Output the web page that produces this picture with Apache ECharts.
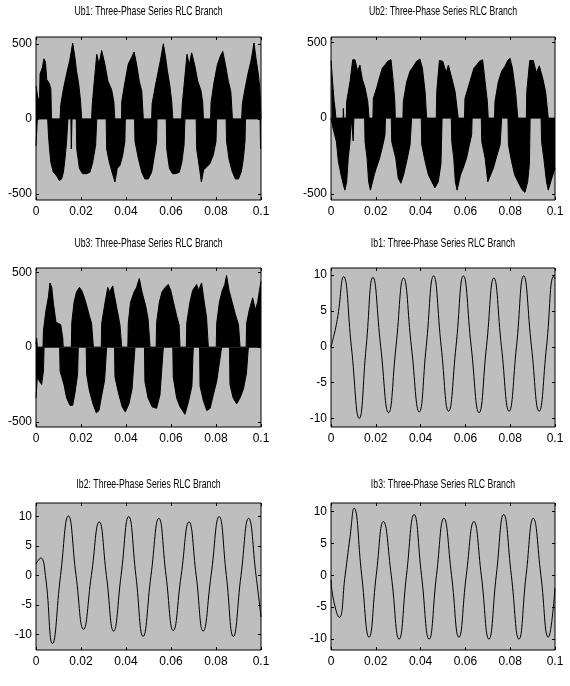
<!DOCTYPE html>
<html>
<head>
<meta charset="utf-8">
<script src="https://cdn.jsdelivr.net/npm/echarts@6/dist/echarts.min.js"></script>
<style>
  html, body { margin: 0; padding: 0; background: #fff; }
  #chart { width: 570px; height: 686px; }
</style>
</head>
<body>
<div id="chart"></div>
<script>
// tick labels
const X_TICKS = [0, 0.02, 0.04, 0.06, 0.08, 0.1];
const U_TICKS = [-500, 0, 500];
const I_TICKS = [-10, -5, 0, 5, 10];

// voltage envelopes [t, v] (positive and negative halves)
const ub1Pos = [[0,220],[0.0008,220],[0.001,120],[0.0016,150],[0.0018,300],[0.0028,340],[0.0035,400],[0.0042,380],[0.0048,260],[0.0058,240],[0.0066,200],[0.0069,0],
  [0.0107,0],[0.011,95],[0.0122,200],[0.0136,300],[0.015,390],[0.0163,505],[0.0173,410],[0.018,320],[0.019,230],[0.0198,120],[0.0203,0],
  [0.0247,0],[0.025,95],[0.0255,185],[0.027,430],[0.028,365],[0.0292,455],[0.0306,365],[0.032,250],[0.0336,195],[0.0346,115],[0.035,0],
  [0.038,0],[0.0381,115],[0.0396,250],[0.041,365],[0.0425,410],[0.0436,445],[0.0447,365],[0.0459,250],[0.047,185],[0.0477,0],
  [0.0514,0],[0.0516,100],[0.0528,200],[0.0541,300],[0.0553,390],[0.0566,500],[0.0576,410],[0.0584,320],[0.0594,230],[0.0603,120],[0.0608,0],
  [0.0647,0],[0.065,100],[0.0656,190],[0.0671,430],[0.0681,360],[0.0692,440],[0.0705,360],[0.0719,250],[0.0733,190],[0.0741,110],[0.0744,0],
  [0.0776,0],[0.0778,110],[0.0792,250],[0.0806,360],[0.082,420],[0.083,450],[0.0842,360],[0.0855,250],[0.0866,180],[0.0873,0],
  [0.0914,0],[0.0917,100],[0.0929,200],[0.0942,300],[0.0956,390],[0.0969,505],[0.0978,400],[0.0988,300],[0.0995,200],[0.1,0]];
const ub1Neg = [[0,-180],[0.0004,-180],[0.0006,0],
  [0.0052,0],[0.0055,-100],[0.006,-200],[0.0066,-290],[0.0077,-355],[0.0092,-380],[0.0104,-410],[0.0114,-400],[0.0122,-355],[0.0129,-265],[0.0136,-150],[0.0142,0],
  [0.0155,0],[0.0157,-200],[0.016,0],
  [0.0179,0],[0.0181,-200],[0.0193,-330],[0.0207,-365],[0.0225,-365],[0.024,-355],[0.0252,-290],[0.0265,-175],[0.027,0],
  [0.0312,0],[0.0314,-200],[0.0326,-290],[0.0338,-355],[0.0351,-420],[0.0361,-330],[0.0373,-310],[0.0385,-245],[0.0395,-150],[0.0397,0],
  [0.0438,0],[0.044,-150],[0.0455,-265],[0.047,-355],[0.0484,-400],[0.0499,-400],[0.0514,-355],[0.0524,-265],[0.0536,-150],[0.0538,0],
  [0.0579,0],[0.0581,-200],[0.0593,-330],[0.0607,-365],[0.0622,-365],[0.0637,-355],[0.0648,-290],[0.0658,-175],[0.0662,0],
  [0.0712,0],[0.0714,-200],[0.0724,-300],[0.0735,-420],[0.0745,-340],[0.0758,-320],[0.0772,-300],[0.0788,-240],[0.08,-150],[0.0803,0],
  [0.0845,0],[0.0847,-150],[0.0858,-270],[0.0872,-350],[0.0886,-400],[0.09,-400],[0.0913,-350],[0.0922,-260],[0.0929,-150],[0.0931,0],
  [0.0996,0],[0.0998,-200],[0.1,-200]];

const ub2Pos = [[0,380],[0.0003,380],[0.0007,240],[0.0014,110],[0.0018,65],[0.0022,0],
  [0.0054,0],[0.0055,65],[0.0057,0],
  [0.0068,0],[0.007,110],[0.0085,240],[0.0097,385],[0.0107,385],[0.0119,310],[0.0129,350],[0.014,255],[0.0152,200],[0.0164,110],[0.017,0],
  [0.0187,0],[0.0189,130],[0.0204,200],[0.0216,265],[0.0229,330],[0.0241,350],[0.0253,375],[0.0268,385],[0.0278,240],[0.0285,110],[0.0287,0],
  [0.0321,0],[0.0323,110],[0.0338,240],[0.0353,310],[0.0367,340],[0.0382,375],[0.0397,390],[0.0408,330],[0.042,175],[0.0427,0],
  [0.047,0],[0.0472,175],[0.0484,380],[0.0499,375],[0.0514,300],[0.0524,350],[0.0539,265],[0.0554,175],[0.0568,0],
  [0.0596,0],[0.0598,130],[0.0612,200],[0.0625,265],[0.0638,330],[0.065,350],[0.0663,375],[0.0677,385],[0.0688,240],[0.0698,110],[0.0702,0],
  [0.073,0],[0.0732,110],[0.0747,240],[0.0762,310],[0.0776,340],[0.0789,380],[0.0799,395],[0.081,330],[0.0824,175],[0.0834,0],
  [0.0872,0],[0.0874,175],[0.0887,380],[0.0903,380],[0.0917,300],[0.093,345],[0.0945,265],[0.0958,175],[0.097,0],[0.1,0]];
const ub2Neg = [[0,0],[0.0008,0],[0.0009,-65],[0.0024,-155],[0.0033,-285],[0.0045,-375],[0.0055,-440],[0.0062,-475],[0.007,-420],[0.0077,-265],[0.0085,-155],[0.009,0],
  [0.0098,0],[0.0099,-150],[0.0102,0],
  [0.015,0],[0.0152,-155],[0.0161,-265],[0.0168,-420],[0.0176,-475],[0.0193,-375],[0.0202,-330],[0.0217,-265],[0.0232,-175],[0.0241,-110],[0.0243,0],
  [0.0269,0],[0.0271,-155],[0.0289,-265],[0.03,-395],[0.0312,-430],[0.0324,-375],[0.0338,-285],[0.0353,-175],[0.036,0],
  [0.0403,0],[0.0405,-175],[0.042,-285],[0.0435,-375],[0.045,-420],[0.0464,-460],[0.0479,-420],[0.0491,-300],[0.0496,0],
  [0.0537,0],[0.0539,-155],[0.0548,-265],[0.0555,-420],[0.0563,-475],[0.0578,-375],[0.059,-330],[0.0605,-265],[0.0618,-175],[0.0628,-110],[0.063,0],
  [0.0671,0],[0.0673,-155],[0.0688,-265],[0.07,-420],[0.0711,-380],[0.0725,-330],[0.074,-250],[0.0755,-175],[0.0762,0],
  [0.079,0],[0.0792,-175],[0.0806,-285],[0.082,-375],[0.0835,-420],[0.0852,-470],[0.0866,-490],[0.0878,-420],[0.0886,-300],[0.0889,0],
  [0.0938,0],[0.094,-155],[0.095,-265],[0.0962,-420],[0.097,-475],[0.0985,-400],[0.1,-330]];

const ub3Pos = [[0,20],[0.0003,60],[0.0006,0],
  [0.0031,0],[0.0033,110],[0.0044,245],[0.0055,335],[0.0062,430],[0.007,400],[0.0077,300],[0.0089,165],[0.0099,160],[0.011,150],[0.0119,60],[0.0121,0],
  [0.0157,0],[0.0159,165],[0.0169,300],[0.018,370],[0.0193,400],[0.0203,380],[0.0213,340],[0.0225,280],[0.0237,210],[0.0247,160],[0.0255,0],
  [0.029,0],[0.0292,160],[0.0307,300],[0.0319,400],[0.0326,370],[0.0341,410],[0.0348,350],[0.0362,240],[0.0373,150],[0.0381,0],
  [0.0408,0],[0.041,160],[0.042,300],[0.0436,370],[0.0447,400],[0.0459,460],[0.0471,370],[0.0487,280],[0.0498,190],[0.0507,0],
  [0.0534,0],[0.0536,165],[0.0548,300],[0.056,370],[0.0574,400],[0.0588,420],[0.0599,380],[0.0611,300],[0.0625,210],[0.0636,150],[0.064,0],
  [0.0668,0],[0.067,160],[0.0684,300],[0.0696,380],[0.0714,420],[0.0722,380],[0.0736,430],[0.0748,300],[0.0758,200],[0.0766,0],
  [0.0801,0],[0.0803,160],[0.0815,300],[0.0828,380],[0.0839,420],[0.0847,480],[0.0858,380],[0.0872,300],[0.0886,220],[0.09,150],[0.0907,0],
  [0.0934,0],[0.0936,160],[0.0948,250],[0.0963,330],[0.0975,250],[0.0985,300],[0.0993,380],[0.1,440]];
const ub3Neg = [[0,-340],[0.0003,-340],[0.0006,-200],[0.0012,-220],[0.0025,-250],[0.0033,-160],[0.0036,0],
  [0.0105,0],[0.0107,-160],[0.0124,-250],[0.0136,-340],[0.0151,-390],[0.0163,-390],[0.0173,-310],[0.0185,-180],[0.0188,0],
  [0.0223,0],[0.0225,-180],[0.0237,-290],[0.0253,-380],[0.0268,-440],[0.028,-425],[0.029,-340],[0.0305,-220],[0.0314,0],
  [0.0349,0],[0.0351,-200],[0.0367,-310],[0.0383,-400],[0.0397,-435],[0.0413,-380],[0.0427,-280],[0.044,0],
  [0.0482,0],[0.0484,-230],[0.0498,-340],[0.0516,-400],[0.0536,-410],[0.0551,-320],[0.0566,0],
  [0.0608,0],[0.061,-200],[0.0625,-340],[0.064,-400],[0.0662,-450],[0.0677,-370],[0.0693,-260],[0.0699,0],
  [0.0727,0],[0.0729,-260],[0.0744,-360],[0.0759,-425],[0.0774,-410],[0.0788,-320],[0.0803,-230],[0.0825,0],
  [0.086,0],[0.0862,-250],[0.0876,-340],[0.0892,-380],[0.0907,-340],[0.0922,-280],[0.0935,-180],[0.0944,0],[0.1,0]];

// branch currents [t, i]: peaks, troughs and zero crossings
const ib1 = [[0,0],[0.0028,3.8],[0.0056,9.8],[0.0091,0],[0.0126,-10],[0.0157,0],[0.0187,9.7],[0.0222,0],[0.0257,-9.2],[0.029,0],
  [0.0324,9.6],[0.0359,0],[0.0394,-9.1],[0.0425,0],[0.0458,9.9],[0.0492,0],[0.0525,-9],[0.0558,0],[0.0591,9.9],[0.0626,0],
  [0.0661,-9.2],[0.0694,0],[0.0727,9.6],[0.0761,0],[0.0795,-9],[0.0828,0],[0.086,9.9],[0.0895,0],[0.0929,-9],[0.0962,0],[0.0994,9.8],[0.1,9.5]];
const ib2 = [[0,2],[0.0021,3],[0.0042,0],[0.0073,-11.5],[0.0109,0],[0.0144,10.1],[0.0178,0],[0.0211,-9.1],[0.0246,0],[0.0281,9.1],
  [0.0313,0],[0.0345,-9.4],[0.0378,0],[0.0412,10],[0.0444,0],[0.0476,-10.3],[0.0511,0],[0.0546,9.7],[0.0578,0],[0.061,-9.3],
  [0.0645,0],[0.068,9.1],[0.0712,0],[0.0743,-9.4],[0.0778,0],[0.0814,10],[0.0846,0],[0.0877,-10.3],[0.0911,0],[0.0945,9.7],[0.0978,0],[0.1,-7]];
const ib3 = [[0,-0.7],[0.0012,-4],[0.0037,-6.6],[0.0063,0],[0.0085,6],[0.0103,10.5],[0.0137,0],[0.017,-9.7],[0.0202,0],[0.0234,8.4],
  [0.0269,0],[0.0304,-10],[0.0337,0],[0.0371,9.5],[0.0404,0],[0.0438,-10],[0.0471,0],[0.0504,8.9],[0.0538,0],[0.0571,-9.7],
  [0.0604,0],[0.0638,8.4],[0.0671,0],[0.0705,-10],[0.0738,0],[0.0771,9.5],[0.0805,0],[0.0839,-10],[0.0871,0],[0.0903,8.9],
  [0.0937,0],[0.097,-9.7],[0.1,-2]];

const FONT = '"Liberation Sans Narrow", "Liberation Sans", Arial, sans-serif';
const BG = '#bebebe';

// subplot boxes (pixels): [left, width], [top, height, title y]
const COL_L = [36, 225];
const COL_R = [331, 224];
const ROWS = [[37, 163, 11], [268, 159, 243], [503, 147, 484]];

const panels = [
  { title: 'Ub1: Three-Phase Series RLC Branch', col: COL_L, row: ROWS[0], y: [-540, 545], ticks: U_TICKS, pos: ub1Pos, neg: ub1Neg },
  { title: 'Ub2: Three-Phase Series RLC Branch', col: COL_R, row: ROWS[0], y: [-540, 535], ticks: U_TICKS, pos: ub2Pos, neg: ub2Neg },
  { title: 'Ub3: Three-Phase Series RLC Branch', col: COL_L, row: ROWS[1], y: [-535, 530], ticks: U_TICKS, pos: ub3Pos, neg: ub3Neg },
  { title: 'Ib1: Three-Phase Series RLC Branch', col: COL_R, row: ROWS[1], y: [-11.2, 11], ticks: I_TICKS, line: ib1 },
  { title: 'Ib2: Three-Phase Series RLC Branch', col: COL_L, row: ROWS[2], y: [-12.6, 12.3], ticks: I_TICKS, line: ib2 },
  { title: 'Ib3: Three-Phase Series RLC Branch', col: COL_R, row: ROWS[2], y: [-11.7, 11.3], ticks: I_TICKS, line: ib3 }
];

const chart = echarts.init(document.getElementById('chart'));

const option = {
  animation: false,
  backgroundColor: '#fff',
  grid: [], xAxis: [], yAxis: [], series: [], graphic: []
};

panels.forEach(function (p, i) {
  option.grid.push({
    left: p.col[0], top: p.row[0], width: p.col[1], height: p.row[1],
    show: true, backgroundColor: BG, borderColor: '#000', borderWidth: 1
  });
  const tick = { show: true, inside: true, length: 3, lineStyle: { color: '#000', width: 1 } };
  ['bottom', 'top'].forEach(function (pos) {
    option.xAxis.push({
      type: 'value', gridIndex: i, position: pos, min: 0, max: 0.1, interval: 0.02,
      axisLine: { show: false, onZero: false }, splitLine: { show: false },
      axisTick: tick,
      axisLabel: {
        show: pos === 'bottom', color: '#000', fontFamily: FONT, fontSize: 12, margin: 6,
        formatter: function (v) { return String(+v.toFixed(2)); }
      }
    });
  });
  ['left', 'right'].forEach(function (pos) {
    option.yAxis.push({
      type: 'value', gridIndex: i, position: pos, min: p.y[0], max: p.y[1],
      axisLine: { show: false, onZero: false }, splitLine: { show: false },
      axisTick: Object.assign({ customValues: p.ticks }, tick),
      axisLabel: {
        show: pos === 'left', customValues: p.ticks, color: '#000',
        fontFamily: FONT, fontSize: 12, margin: 4
      }
    });
  });
  const xi = i * 2, yi = i * 2;
  if (p.line) {
    option.series.push({
      type: 'line', xAxisIndex: xi, yAxisIndex: yi, data: p.line,
      symbol: 'none', smooth: 0.5, lineStyle: { color: '#000', width: 1 }
    });
  } else {
    [p.pos, p.neg].forEach(function (d) {
      option.series.push({
        type: 'line', xAxisIndex: xi, yAxisIndex: yi, data: d,
        symbol: 'none', lineStyle: { color: '#000', width: 1 },
        areaStyle: { color: '#000', opacity: 1 }
      });
    });
  }
  option.graphic.push({
    type: 'text', x: p.col[0] + p.col[1] / 2, y: p.row[2], scaleX: 0.67,
    style: { text: p.title, font: '13px "Liberation Sans", Arial, sans-serif', fill: '#000',
      textAlign: 'center', textVerticalAlign: 'middle' }
  });
});

chart.setOption(option);
</script>
</body>
</html>
